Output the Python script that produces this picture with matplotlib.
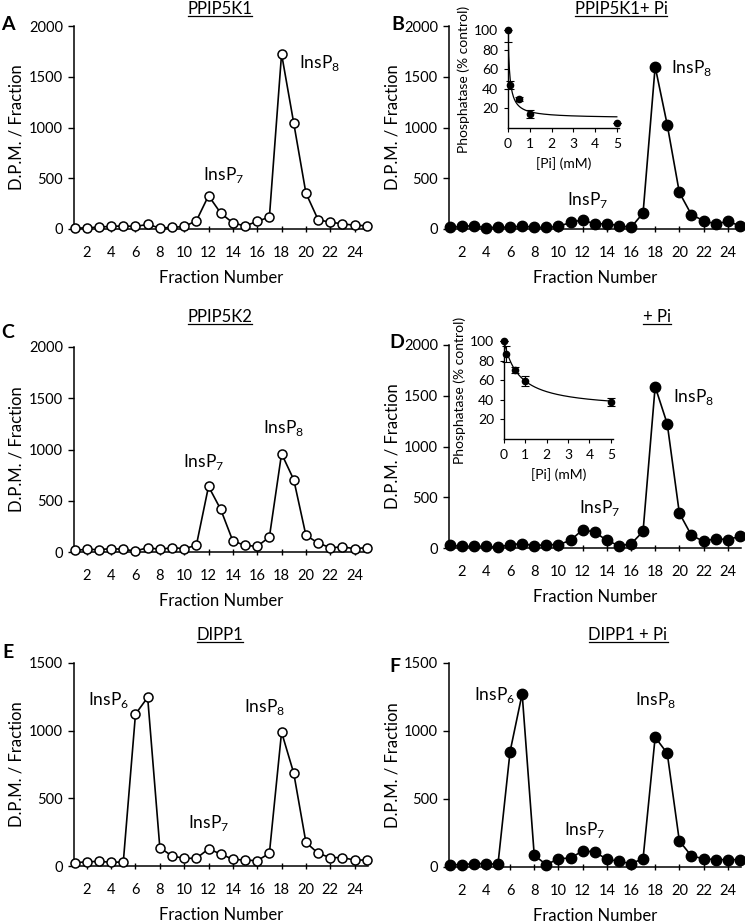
import matplotlib
matplotlib.use("Agg")
import matplotlib.pyplot as plt
from matplotlib.lines import Line2D
import numpy as np

plt.rcParams['font.family'] = ['Lato', 'DejaVu Sans']

fractions = list(range(1, 26))

ppip5k1 = [10, 10, 20, 25, 30, 25, 45, 10, 15, 25, 80, 328, 157, 60, 30, 75, 118,
           1725, 1043, 354, 92, 66, 52, 36, 33]
ppip5k1_pi = [15, 25, 33, 10, 20, 15, 30, 15, 15, 25, 65, 90, 50, 52, 33, 15, 157,
              1600, 1026, 360, 141, 82, 50, 75, 33]
ppip5k2 = [16, 26, 23, 33, 26, 10, 42, 26, 42, 33, 65, 640, 416, 107, 65, 55, 146,
           959, 706, 163, 88, 42, 49, 33, 42]
ppip5k2_pi = [26, 16, 16, 16, 7, 33, 43, 23, 33, 33, 75, 180, 157, 75, 23, 39, 164,
              1590, 1223, 344, 125, 66, 92, 82, 115]
dipp1 = [25, 30, 35, 27, 30, 1122, 1246, 136, 74, 57, 57, 126, 89, 49, 44, 39, 94,
         989, 686, 175, 94, 62, 62, 44, 44]
dipp1_pi = [17, 17, 25, 25, 20, 848, 1274, 86, 17, 61, 66, 118, 111, 57, 42, 25, 61,
            954, 836, 192, 81, 61, 54, 54, 54]

x_ticks = list(range(2, 25, 2))

# insets: phosphatase activity vs [Pi]
pi_mM = [0, 0.1, 0.5, 1, 5]
k1_activity = [100, 44, 30, 14, 5]
k1_err_low = [12, 4, 2, 4, 0]
k1_err_high = [0, 4, 2, 4, 0]
k1_fit_ymin, k1_fit_ic50 = 10, 0.08
k2_activity = [100, 87, 70, 59, 38]
k2_err_low = [0, 8, 3, 5, 4]
k2_err_high = [0, 8, 3, 5, 4]
k2_fit_ymin, k2_fit_ic50 = 30, 0.707

W, H = 745, 924
fig = plt.figure(figsize=(W / 100, H / 100), dpi=100)


def rect(x0, y0, x1, y1):
    return [x0 / W, 1 - y1 / H, (x1 - x0) / W, (y1 - y0) / H]


def fx(x):
    return x / W


def fy(y):
    return 1 - y / H


def main_axes(r, data, filled, ymax, ystep):
    ax = fig.add_axes(r)
    if filled:
        ax.plot(fractions, data, '-o', color='black', lw=1.2, ms=7.5,
                mfc='black', mec='black', clip_on=False, zorder=3)
    else:
        ax.plot(fractions, data, '-o', color='black', lw=1.2, ms=6.5,
                mfc='white', mec='black', mew=1.1, clip_on=False, zorder=3)
    ax.set_xlim(0.95, 25.1)
    ax.set_ylim(0, ymax)
    ax.set_xticks(x_ticks)
    ax.set_yticks(np.arange(0, ymax + 1, ystep))
    for s in ['top', 'right']:
        ax.spines[s].set_visible(False)
    for s in ['left', 'bottom']:
        ax.spines[s].set_linewidth(1.1)
    ax.tick_params(axis='y', direction='out', length=4, width=1, labelsize=10.5, pad=4)
    ax.tick_params(axis='x', direction='inout', length=5, width=1, labelsize=10.5, pad=10)
    ax.set_xlabel('Fraction Number', fontsize=12)
    ax.set_ylabel('D.P.M. / Fraction', fontsize=12)
    return ax


def label(ax, x, y, base, sub):
    ax.text(x, y, base + r'$_{\mathregular{' + sub + '}}$', fontsize=12.5,
            ha='center', va='center')


def inset(r, act, elow, ehigh, ymin, ic50):
    ax = fig.add_axes(r)
    xs = np.linspace(0, 5, 300)
    ax.plot(xs, ymin + (100 - ymin) * ic50 / (ic50 + xs), color='black', lw=0.9)
    ax.errorbar(pi_mM, act, yerr=[elow, ehigh], fmt='o', color='black', ms=4.5,
                capsize=3, elinewidth=0.8, capthick=0.8, clip_on=False, zorder=3)
    ax.set_xlim(0, 5.1)
    ax.set_ylim(0, 100)
    ax.set_xticks(range(0, 6))
    ax.set_yticks([20, 40, 60, 80, 100])
    for s in ['top', 'right']:
        ax.spines[s].set_visible(False)
    for s in ['left', 'bottom']:
        ax.spines[s].set_linewidth(1.0)
    ax.tick_params(direction='out', length=3, width=0.8, labelsize=10, pad=4)
    ax.set_xlabel('[Pi] (mM)', fontsize=10, labelpad=5)
    ax.set_ylabel('Phosphatase (% control)', fontsize=10, labelpad=3)
    ax.patch.set_alpha(0)
    return ax


axA = main_axes(rect(74, 26, 368, 229), ppip5k1, False, 2000, 500)
axB = main_axes(rect(449, 26, 741, 229), ppip5k1_pi, True, 2000, 500)
axC = main_axes(rect(74, 347, 368, 552), ppip5k2, False, 2000, 500)
axD = main_axes(rect(449, 345, 741, 548), ppip5k2_pi, True, 2000, 500)
axE = main_axes(rect(74, 663, 368, 866), dipp1, False, 1500, 500)
axF = main_axes(rect(449, 663, 741, 867), dipp1_pi, True, 1500, 500)

for ax, ylx in [(axA, 17), (axC, 17), (axE, 17), (axB, 393), (axD, 393), (axF, 393)]:
    pos = ax.get_position()
    ax.yaxis.set_label_coords(fx(ylx), (pos.y0 + pos.y1) / 2, transform=fig.transFigure)
    ax.yaxis.label.set_va('center')
for ax in [axA, axB, axC, axD, axE, axF]:
    pos = ax.get_position()
    ax.xaxis.set_label_coords((pos.x0 + pos.x1) / 2, pos.y0 - 49 / H,
                              transform=fig.transFigure)
    ax.xaxis.label.set_va('center')

label(axA, 13.2, 532, 'InsP', '7')
label(axA, 21.1, 1635, 'InsP', '8')
label(axB, 12.4, 285, 'InsP', '7')
label(axB, 21.0, 1585, 'InsP', '8')
label(axC, 11.6, 878, 'InsP', '7')
label(axC, 18.2, 1210, 'InsP', '8')
label(axD, 13.4, 394, 'InsP', '7')
label(axD, 21.2, 1487, 'InsP', '8')
label(axE, 3.8, 1227, 'InsP', '6')
label(axE, 12.0, 318, 'InsP', '7')
label(axE, 16.6, 1175, 'InsP', '8')
label(axF, 4.7, 1264, 'InsP', '6')
label(axF, 12.2, 272, 'InsP', '7')
label(axF, 18.0, 1227, 'InsP', '8')

inset(rect(508, 30, 619, 128), k1_activity, k1_err_low, k1_err_high,
      k1_fit_ymin, k1_fit_ic50)
inset(rect(504, 341, 613, 439), k2_activity, k2_err_low, k2_err_high,
      k2_fit_ymin, k2_fit_ic50)

titles = [('PPIP5K1', 220, 9), ('PPIP5K1+ Pi', 621, 9), ('PPIP5K2', 220, 317),
          ('+ Pi', 657, 317), ('DIPP1', 220, 635), ('DIPP1 + Pi', 628, 635)]
title_texts = []
for t, x, y in titles:
    title_texts.append(fig.text(fx(x), fy(y), t, fontsize=12, ha='center', va='center'))

letters = [('A', 8, 24), ('B', 398, 24), ('C', 8, 333), ('D', 397, 343),
           ('E', 8, 653), ('F', 395, 667)]
for t, x, y in letters:
    fig.text(fx(x), fy(y), t, fontsize=14, fontweight='bold', ha='center', va='center')

fig.canvas.draw()
r = fig.canvas.get_renderer()
for tt in title_texts:
    bb = tt.get_window_extent(r)
    yline = bb.y0 + 1
    fig.add_artist(Line2D([bb.x0 / fig.bbox.width, bb.x1 / fig.bbox.width],
                          [yline / fig.bbox.height] * 2, transform=fig.transFigure,
                          color='black', lw=0.9))

fig.savefig('out.png', dpi=100)
